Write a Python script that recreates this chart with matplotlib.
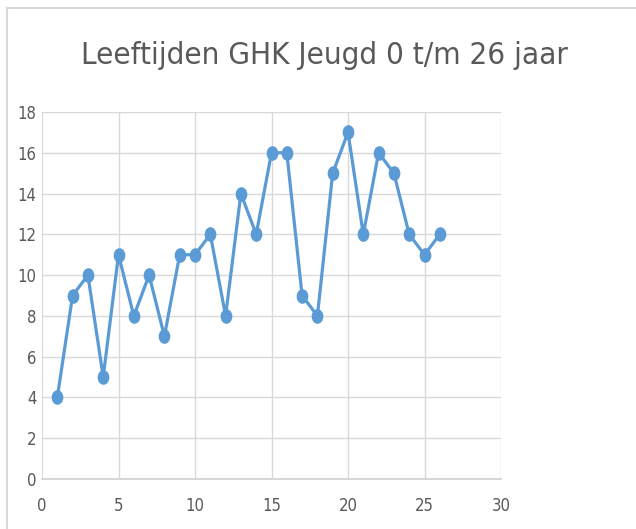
import matplotlib.pyplot as plt
from matplotlib.lines import Line2D
from matplotlib.markers import MarkerStyle
from matplotlib.transforms import Affine2D

# Leeftijden (x) en aantallen (y)
leeftijd = list(range(1, 27))
aantal = [4, 9, 10, 5, 11, 8, 10, 7, 11, 11, 12, 8, 14, 12, 16, 16,
          9, 8, 15, 17, 12, 16, 15, 12, 11, 12]
xticks = [0, 5, 10, 15, 20, 25, 30]
yticks = [0, 2, 4, 6, 8, 10, 12, 14, 16, 18]

plt.rcParams['font.family'] = ['DejaVu Sans']
plt.rcParams['font.stretch'] = 'condensed'

W, H = 636, 529
fig = plt.figure(figsize=(W / 100, H / 100), dpi=100)
ax = fig.add_axes([42 / W, 1 - 479 / H, (501 - 42) / W, (479 - 112) / H])

# bolletjes iets hoger dan breed, zoals in het origineel
bol = MarkerStyle('o', transform=Affine2D().scale(0.78, 1.0))
ax.plot(leeftijd, aantal, color='#5B9BD5', linewidth=2.3, marker=bol,
        markersize=9.5, markerfacecolor='#5B9BD5', markeredgecolor='#5B9BD5',
        zorder=3, clip_on=False)

ax.set_xlim(0, 30)
ax.set_ylim(0, 18)
ax.set_xticks(xticks)
ax.set_yticks(yticks)
ax.grid(True, color='#d9d9d9', linewidth=1)
ax.set_axisbelow(True)
for s in ['top', 'right', 'left']:
    ax.spines[s].set_visible(False)
ax.spines['bottom'].set_color('#d0d0d0')
ax.spines['bottom'].set_linewidth(1.2)
ax.tick_params(length=0, labelsize=12, colors='#595959')
ax.tick_params(axis='x', pad=13)
ax.tick_params(axis='y', pad=4)

fig.text(324 / W, 1 - 56 / H, 'Leeftijden GHK Jeugd 0 t/m 26 jaar',
         ha='center', va='center', fontsize=22.5, color='#595959')

# rand van het grafiekgebied (deels afgesneden)
fig.add_artist(Line2D([7 / W, 1], [1 - 8 / H, 1 - 8 / H], color='#d9d9d9',
                      linewidth=1.5, transform=fig.transFigure))
fig.add_artist(Line2D([7 / W, 7 / W], [1 - 8 / H, 0], color='#d9d9d9',
                      linewidth=1.5, transform=fig.transFigure))

fig.savefig('out.png', dpi=100)
